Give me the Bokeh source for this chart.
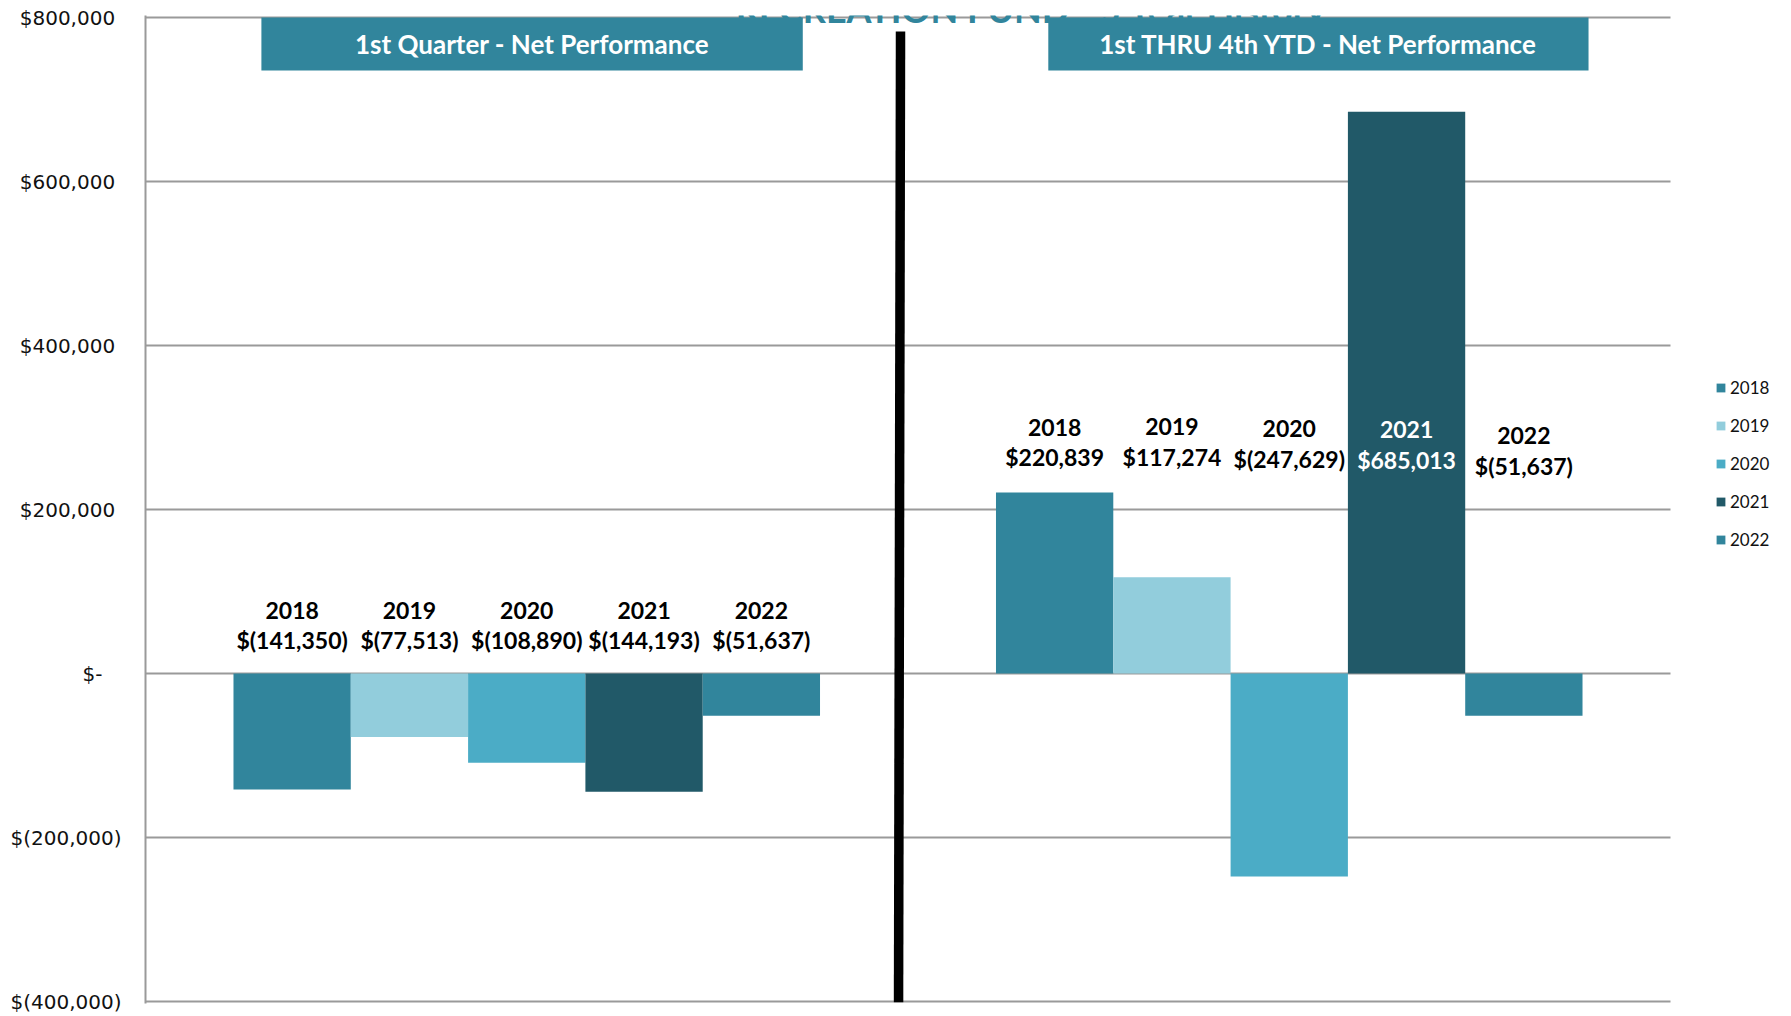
from bokeh.plotting import figure
from bokeh.models import Range1d, Legend, LegendItem, Label, FixedTicker
from bokeh.core.properties import value
from bokeh.embed import file_html
from bokeh.resources import INLINE

# ---------------- data ----------------
TITLE = "RECREATION FUND - 5 Year History"
GROUPS = ["1st Quarter - Net Performance", "1st THRU 4th YTD - Net Performance"]
YEARS = ["2018", "2019", "2020", "2021", "2022"]
Q1_NET = [-141350, -77513, -108890, -144193, -51637]
YTD_NET = [220839, 117274, -247629, 685013, -51637]
COLORS = ["#31859C", "#92CDDC", "#4BACC6", "#215968", "#31859C"]
Y_TICKS = [-400000, -200000, 0, 200000, 400000, 600000, 800000]
Y_TICK_LABELS = ["$(400,000)", "$(200,000)", "$-\u00a0\u00a0\u00a0", "$200,000\u00a0",
                 "$400,000\u00a0", "$600,000\u00a0", "$800,000\u00a0"]

# ---------------- layout constants ----------------
W, H = 1791, 1016
PLOT_L, PLOT_R = 145, 1670          # chart area (px)
FRAME_T, FRAME_B = 15, 1003         # frame (px), grid runs 17..1001
Y_PER_PX = 1200000 / 984
X_PER_PX = 2.0 / (PLOT_R - PLOT_L)
X_END = -0.5 + (W - PLOT_L) * X_PER_PX
Y_TOP = 800000 + 2 * Y_PER_PX
Y_BOT = -400000 - 2 * Y_PER_PX

N = len(YEARS)
BAR_W = 1.0 / (N + 1.5)          # Excel gap width 150 %
LABEL_FONT = value("Lato")
LABEL_Y_YEAR = [[76900] * 5, [300000, 301000, 299000, 298000, 290000]]
LABEL_Y_VAL = [[40900] * 5, [263500, 264500, 262000, 260000, 253500]]
BANNERS = [(-0.348, 0.362), (0.684, 1.3925)]
BANNER_Y = (735300, 800000)


def money(v):
    s = f"{abs(v):,}"
    return f"$({s})" if v < 0 else f"${s}"


p = figure(width=W, height=H, output_backend="svg", toolbar_location=None,
           x_range=Range1d(-0.5, X_END), y_range=Range1d(Y_BOT, Y_TOP),
           min_border_left=PLOT_L, min_border_right=0, min_border_top=FRAME_T,
           min_border_bottom=H - FRAME_B)
p.outline_line_color = None
p.background_fill_color = "white"
p.xaxis.visible = False
p.xgrid.grid_line_color = None
p.ygrid.grid_line_color = None

ax = p.yaxis[0]
ax.ticker = FixedTicker(ticks=Y_TICKS)
ax.major_label_overrides = {t: l for t, l in zip(Y_TICKS, Y_TICK_LABELS)}
ax.major_label_text_font = "DejaVu Sans"
ax.major_label_text_font_size = "20px"
ax.major_label_text_color = "#111111"
ax.major_label_standoff = 24
ax.major_tick_out = 0
ax.major_tick_in = 0
ax.minor_tick_out = 0
ax.major_tick_line_color = None
ax.minor_tick_line_color = None
ax.axis_line_color = "#9a9a9a"
ax.axis_line_width = 2

# horizontal gridlines across the chart area only
p.segment(x0=[-0.5] * len(Y_TICKS), x1=[1.5] * len(Y_TICKS), y0=Y_TICKS, y1=Y_TICKS,
          line_color="#9a9a9a", line_width=2)

# banners
for (x0, x1), name in zip(BANNERS, GROUPS):
    p.quad(left=[x0], right=[x1], bottom=[BANNER_Y[0]], top=[BANNER_Y[1]],
           fill_color="#31859C", line_color=None)
    p.text(x=[(x0 + x1) / 2], y=[(BANNER_Y[0] + BANNER_Y[1]) / 2], text=[name],
           text_font=LABEL_FONT, text_font_style="bold", text_font_size="26px",
           text_color="white", text_align="center", text_baseline="middle")

# bars
items = []
for i, (yr, col) in enumerate(zip(YEARS, COLORS)):
    off = (i - (N - 1) / 2) * BAR_W
    xs = [g + off for g in range(2)]
    tops = [Q1_NET[i], YTD_NET[i]]
    r = p.vbar(x=xs, top=tops, bottom=0, width=BAR_W, fill_color=col, line_color=None)
    items.append(LegendItem(label=yr, renderers=[r]))
    for g in range(2):
        yv = LABEL_Y_VAL[g][i]
        yy = LABEL_Y_YEAR[g][i]
        tc = "white" if tops[g] > yy else "black"
        p.text(x=[xs[g]], y=[yy], text=[yr], text_font=LABEL_FONT, text_font_style="bold",
               text_font_size="23px", text_color=tc, text_align="center",
               text_baseline="middle")
        p.text(x=[xs[g]], y=[yv], text=[money(tops[g])], text_font=LABEL_FONT,
               text_font_style="bold", text_font_size="23px", text_color=tc,
               text_align="center", text_baseline="middle")

# divider
p.segment(x0=[0.4902], y0=[782900], x1=[0.4876], y1=[-401000], line_width=9.5,
          line_color="black")

# title (cropped at the top like the original)
p.add_layout(Label(x=0.662, y=800000 + 9 * Y_PER_PX, text=TITLE, text_align="center",
                   text_baseline="alphabetic", text_font="Lato", text_font_size="36px",
                   text_font_style="bold", text_color="#31859C"))

legend = Legend(items=items, location=(1715 - PLOT_L, FRAME_B - 550), orientation="vertical",
                glyph_width=11, glyph_height=11, label_text_font="Lato",
                label_text_font_size="17px", label_text_color="#111111",
                label_standoff=4, spacing=17, label_height=21, padding=0, margin=0,
                border_line_color=None, background_fill_alpha=0)
p.add_layout(legend)

open("out.html", "w").write(file_html(p, INLINE))
